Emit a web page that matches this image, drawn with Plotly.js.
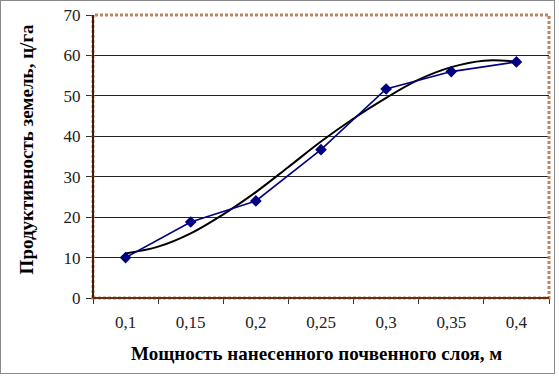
<!DOCTYPE html>
<html>
<head>
<meta charset="utf-8">
<script src="https://cdn.plot.ly/plotly-3.0.1.min.js"></script>
<style>
html,body{margin:0;padding:0;background:#fff;}
#wrap{position:absolute;left:0;top:0;width:553px;height:372px;border:1px solid #8a8a8a;}
#chart{width:553px;height:372px;}
</style>
</head>
<body>
<div id="wrap"><div id="chart"></div></div>
<script>
// Data
var thickness = [0.1, 0.15, 0.2, 0.25, 0.3, 0.35, 0.4];
var tickLabels = ['0,1', '0,15', '0,2', '0,25', '0,3', '0,35', '0,4'];
var productivity = [10, 18.8, 24, 36.7, 51.7, 56, 58.4];
// Trend curve
var trendX = [0.1, 0.125, 0.15, 0.175, 0.2, 0.225, 0.25, 0.275, 0.3, 0.325, 0.35, 0.375, 0.4];
var trendY = [11, 12.7, 16, 20.7, 26.2, 32.4, 38.7, 44.4, 49.5, 54, 57.1, 58.7, 58.5];
var boundaries = [0.075, 0.125, 0.175, 0.225, 0.275, 0.325, 0.375, 0.425];
var yTicks = [0, 10, 20, 30, 40, 50, 60, 70];

var serif = 'Liberation Serif, Times New Roman, serif';

var traces = [
  {
    x: trendX, y: trendY, type: 'scatter', mode: 'lines',
    line: {color: '#000000', width: 2, shape: 'spline', smoothing: 1},
    hoverinfo: 'skip', showlegend: false
  },
  {
    x: thickness, y: productivity, type: 'scatter', mode: 'lines+markers',
    line: {color: '#000080', width: 1.6},
    marker: {symbol: 'diamond', size: 9, color: '#000080'},
    showlegend: false
  },
  {
    x: boundaries, y: boundaries.map(function(){return null;}), xaxis: 'x2', type: 'scatter',
    mode: 'markers', showlegend: false, hoverinfo: 'skip'
  }
];

var layout = {
  width: 553, height: 372,
  margin: {l: 92, r: 5, t: 14, b: 75},
  paper_bgcolor: '#ffffff', plot_bgcolor: '#ffffff',
  separators: ', ',
  font: {family: serif, size: 17, color: '#000'},
  xaxis: {
    range: [0.075, 0.425], tickmode: 'array', tickvals: thickness, ticktext: tickLabels,
    ticks: '', showgrid: false, zeroline: false, showline: false,
    tickfont: {family: serif, size: 17, color: '#222'}, ticklabelstandoff: 12
  },
  xaxis2: {
    range: [0.075, 0.425], overlaying: 'x', anchor: 'y', side: 'bottom',
    tickmode: 'array', tickvals: boundaries, showticklabels: false,
    ticks: 'outside', ticklen: 5, tickcolor: '#333', tickwidth: 1,
    showgrid: false, zeroline: false, showline: false
  },
  yaxis: {
    range: [0, 70], tickmode: 'array', tickvals: yTicks,
    ticks: 'outside', ticklen: 6, tickcolor: '#333', tickwidth: 1,
    showgrid: true, gridcolor: '#222', gridwidth: 1, zeroline: false, showline: false,
    tickfont: {family: serif, size: 17, color: '#222'}, ticklabelstandoff: 2
  },
  shapes: [
    {type: 'rect', xref: 'paper', yref: 'paper', x0: 0, x1: 1, y0: 0, y1: 1,
     line: {color: '#c0835f', width: 3, dash: '3px,2px'}, layer: 'above'},
    {type: 'line', xref: 'paper', yref: 'paper', x0: 0, x1: 0, y0: 0, y1: 1,
     line: {color: '#4a1a08', width: 2}, layer: 'above'},
    {type: 'line', xref: 'paper', yref: 'paper', x0: 0, x1: 1, y0: 0, y1: 0,
     line: {color: '#6a2c12', width: 2}, layer: 'above'}
  ],
  annotations: [
    {text: '<b>Мощность нанесенного почвенного слоя, м</b>', xref: 'paper', yref: 'paper',
     x: 0.49, y: -0.195, xanchor: 'center', yanchor: 'middle', showarrow: false,
     font: {family: serif, size: 19, color: '#000'}},
    {text: '<b>Продуктивность земель, ц/га</b>', xref: 'paper', yref: 'paper',
     x: -0.147, y: 0.525, xanchor: 'center', yanchor: 'middle', textangle: -90, showarrow: false,
     font: {family: serif, size: 19, color: '#000'}}
  ]
};

Plotly.newPlot('chart', traces, layout, {displayModeBar: false, staticPlot: true});
</script>
</body>
</html>
